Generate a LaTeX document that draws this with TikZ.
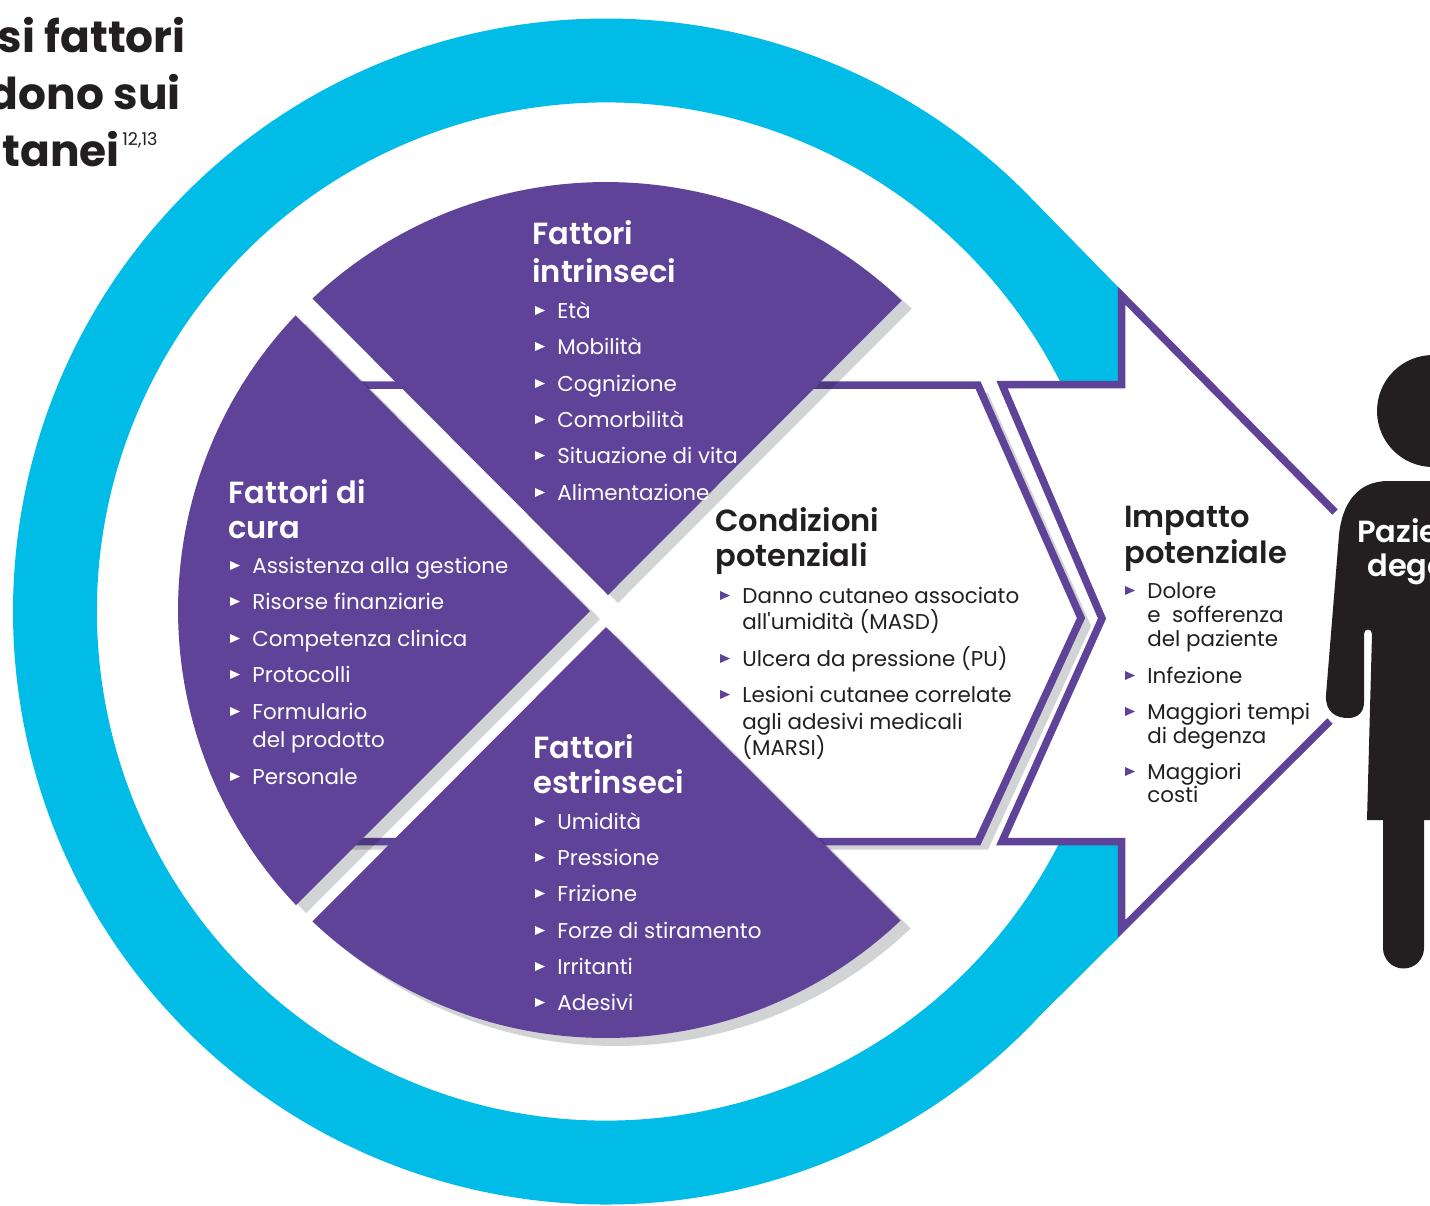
\documentclass[tikz,border=0pt]{standalone}
\usepackage{fontspec}
\setmainfont{Poppins}[BoldFont={Poppins SemiBold}]
\newfontface\titleface{Poppins Bold}
\usepackage{xcolor}
\usetikzlibrary{calc}
\definecolor{ringblue}{HTML}{00BCE7}
\definecolor{violet}{HTML}{5F4398}
\definecolor{shade}{HTML}{D1D3D4}
\definecolor{ink}{HTML}{231F20}
\newcommand{\sector}[4]{% apex x, apex y, start, end
  (#1,#2) -- ([shift={(#3:428)}]606,610) arc[start angle=#3, end angle=#4, radius=428] -- cycle}
\begin{document}
\begin{tikzpicture}[
      x=.02cm, y=-.02cm,
      wedge/.style={fill=violet},
      castshadow/.style={fill=shade, blend mode=multiply},
      outline/.style={draw=violet, line width=.15cm, miter limit=20},
      title/.style={anchor=base east, inner sep=0pt, text=ink, font=\fontsize{25pt}{28pt}\titleface},
      head/.style={anchor=base west, inner sep=0pt, yshift=.02cm, font=\fontsize{17.4pt}{20pt}\selectfont\bfseries},
      headdark/.style={head, text=ink},
      headlight/.style={head, text=white},
      item/.style={anchor=base west, inner sep=0pt, yshift=.02cm, font=\fontsize{12.2pt}{15pt}\selectfont},
      itemlight/.style={item, text=white},
      itemdark/.style={item, text=ink},
    ]
      \useasboundingbox (0,0) rectangle (1430,1205);
      \coordinate (ringctr) at (606,611.5);

      % ring
      \fill[ringblue] (1118,382) -- (1118,287) -- ($(ringctr)+(-45:593)$)
        arc[start angle=-45, end angle=-317, radius=593]
        -- (1118,938) -- (1118,842) -- ($(ringctr)+(26.93:509)$)
        arc[start angle=26.93, end angle=333.2, radius=509] -- cycle;

      % arrow
      \draw[outline] (1335,512) -- (1121.5,295.5) -- (1121.5,384.5) -- (1002,384.5)
        -- (1102,618.5) -- (1002,841.5) -- (1121.5,841.5) -- (1121.5,929) -- (1330,721);

      % conditions
      \fill[castshadow] (350,393) -- (988,393) -- (1091,626) -- (988,849.5) -- (350,849.5) -- cycle;
      \filldraw[outline, fill=white] (350,385) -- (978,385) -- (1081,618) -- (978,841.5) -- (350,841.5);

      % shadows and sectors
      \begin{scope}[shift={(10,8)}]
        \fill[castshadow] \sector{608}{595}{-133.3}{-46.3};
        \fill[castshadow] \sector{590}{611}{136.4}{223.5};
        \fill[castshadow] \sector{606}{627}{133.3}{46.5};
      \end{scope}
      \fill[wedge] \sector{608}{595}{-133.3}{-46.3};
      \fill[wedge] \sector{590}{611}{136.4}{223.5};
      \fill[wedge] \sector{606}{627}{133.3}{46.5};

      % patient
      \fill[ink] (1433,411) circle[radius=56];
      \fill[ink] (1440,481) -- (1388,481) .. controls (1358,481) and (1342,503) .. (1339,535)
        -- (1326,695) .. controls (1325,712) and (1336,718) .. (1348,718)
        .. controls (1358,718) and (1364,712) .. (1364,702)
        -- (1364,634) .. controls (1364,628) and (1372,628) .. (1372,634)
        -- (1367,820) -- (1383,820) -- (1383,948)
        arc[start angle=180, end angle=0, radius=20.5]
        -- (1424,820) -- (1440,820) -- cycle;
      \node[headlight] (pazie) at (1357,543) {Pazie};
      \node[headlight] (deg) at (1367,577) {dege};

      % title
      \node[title] (title1) at (186,52) {si fattori};
      \node[title] (title2) at (181,109) {dono sui};
      \node[title] (title3) at (120,166) {utanei};
      \node[anchor=base west, inner sep=0pt, text=ink, font=\fontsize{10pt}{11pt}\selectfont] (refs) at (122,145) {12,13};

      % Fattori intrinseci
      \node[headlight] (intr1) at (532,245) {Fattori};
      \node[headlight] (intr2) at (532,283) {intrinseci};
      \foreach \y/\t [count=\i] in {319/Età, 355/Mobilità, 392/Cognizione, 428/Comorbilità, 464/Situazione di vita, 501/Alimentazione} {
        \fill[white] (535,\y-13) -- ++(10,4.5) -- ++(-10,4.5) -- cycle;
        \node[itemlight] (intrx\i) at (557,\y) {\t};
      }

      % Fattori di cura
      \node[headlight] (cura1) at (228,504) {Fattori di};
      \node[headlight] (cura2) at (228,539) {cura};
      \foreach \y/\t [count=\i] in {574/Assistenza alla gestione, 610/Risorse finanziarie, 647/Competenza clinica, 683/Protocolli, 720/Formulario, 748/del prodotto, 785/Personale} {
        \node[itemlight] (curax\i) at (252,\y) {\t};
      }
      \foreach \y in {574,610,647,683,720,785}
        \fill[white] (230,\y-13) -- ++(10,4.5) -- ++(-10,4.5) -- cycle;

      % Fattori estrinseci
      \node[headlight] (estr1) at (533,759) {Fattori};
      \node[headlight] (estr2) at (533,794) {estrinseci};
      \foreach \y/\t [count=\i] in {830/Umidità, 866/Pressione, 902/Frizione, 939/Forze di stiramento, 975/Irritanti, 1011/Adesivi} {
        \fill[white] (535,\y-13) -- ++(10,4.5) -- ++(-10,4.5) -- cycle;
        \node[itemlight] (estrx\i) at (557,\y) {\t};
      }

      % Condizioni potenziali
      \node[headdark] (cond1) at (715,532) {Condizioni};
      \node[headdark] (cond2) at (715,567) {potenziali};
      \foreach \y/\t [count=\i] in {604/Danno cutaneo associato, 630/all\textquotesingle umidità (MASD), 667/Ulcera da pressione (PU), 703/Lesioni cutanee correlate, 730/agli adesivi medicali, 756/(MARSI)} {
        \node[itemdark] (condx\i) at (742,\y) {\t};
      }
      \foreach \y in {604,667,703}
        \fill[violet] (720,\y-13) -- ++(10,4.5) -- ++(-10,4.5) -- cycle;

      % Impatto potenziale
      \node[headdark] (imp1) at (1124,528) {Impatto};
      \node[headdark] (imp2) at (1124,564) {potenziale};
      \foreach \y/\t [count=\i] in {599/Dolore, 623/e\ \ sofferenza, 647/del paziente, 684/Infezione, 720/Maggiori tempi, 744/di degenza, 780/Maggiori, 803/costi} {
        \node[itemdark] (impx\i) at (1147,\y) {\t};
      }
      \foreach \y in {599,684,720,780}
        \fill[violet] (1125,\y-13) -- ++(10,4.5) -- ++(-10,4.5) -- cycle;
    \end{tikzpicture}
\end{document}
